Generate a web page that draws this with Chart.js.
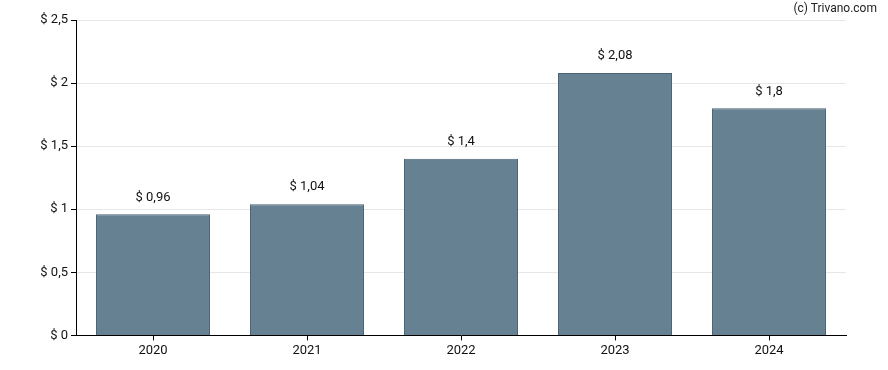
<!DOCTYPE html>
<html>
<head>
<meta charset="utf-8">
<script src="https://cdn.jsdelivr.net/npm/chart.js@4/dist/chart.umd.min.js"></script>
<style>
  html, body { margin: 0; padding: 0; background: #fff; }
  #wrap { position: relative; width: 888px; height: 370px; }
  #credit { position: absolute; right: 11px; top: 1px; font: 12px Roboto, sans-serif; color: #222; }
</style>
</head>
<body>
<div id="wrap">
  <canvas id="chart" width="888" height="370"></canvas>
  <div id="credit">(c) Trivano.com</div>
</div>
<script>
// dividend per year
const anos = ['2020', '2021', '2022', '2023', '2024'];
const valores = [0.96, 1.04, 1.4, 2.08, 1.8];
const yTicks = [0, 0.5, 1, 1.5, 2, 2.5];

function formatarDolar(v) {
    return '$ ' + String(v).replace('.', ',');
}

// escreve o valor acima de cada barra
const rotulosBarras = {
    id: 'rotulosBarras',
    afterDatasetsDraw(chart) {
        const ctx = chart.ctx;
        const meta = chart.getDatasetMeta(0);
        ctx.save();
        ctx.font = '13px Roboto, sans-serif';
        ctx.fillStyle = '#111';
        ctx.textAlign = 'center';
        ctx.textBaseline = 'middle';
        meta.data.forEach((bar, i) => {
            ctx.fillText(formatarDolar(valores[i]), bar.x, bar.y - 17);
        });
        ctx.restore();
    }
};

const ctx = document.getElementById('chart').getContext('2d');
new Chart(ctx, {
    type: 'bar',
    data: {
        labels: anos,
        datasets: [{
            data: valores,
            backgroundColor: 'rgb(102,129,146)',
            borderColor: 'rgb(72,97,116)',
            borderWidth: 1,
            barPercentage: 0.74,
            categoryPercentage: 1
        }]
    },
    options: {
        responsive: false,
        animation: false,
        layout: { padding: { top: 20, right: 42, left: 0, bottom: 8 } },
        plugins: {
            legend: { display: false },
            tooltip: { enabled: false }
        },
        scales: {
            y: {
                min: 0,
                max: 2.5,
                afterBuildTicks: (axis) => { axis.ticks = yTicks.map(v => ({ value: v })); },
                afterFit: (axis) => { axis.width = 76; },
                border: { color: '#000', width: 1 },
                grid: {
                    color: '#e6e6e6',
                    tickColor: '#000',
                    tickLength: 5,
                    drawTicks: true
                },
                ticks: {
                    font: { family: 'Roboto, sans-serif', size: 13 },
                    color: '#111',
                    padding: 3,
                    callback: (v) => formatarDolar(v)
                }
            },
            x: {
                border: { color: '#000', width: 1 },
                grid: {
                    display: true,
                    drawOnChartArea: false,
                    tickColor: '#000',
                    tickLength: 5,
                    offset: false
                },
                ticks: {
                    font: { family: 'Roboto, sans-serif', size: 13 },
                    color: '#111',
                    padding: 3
                }
            }
        }
    },
    plugins: [rotulosBarras]
});
</script>
</body>
</html>
